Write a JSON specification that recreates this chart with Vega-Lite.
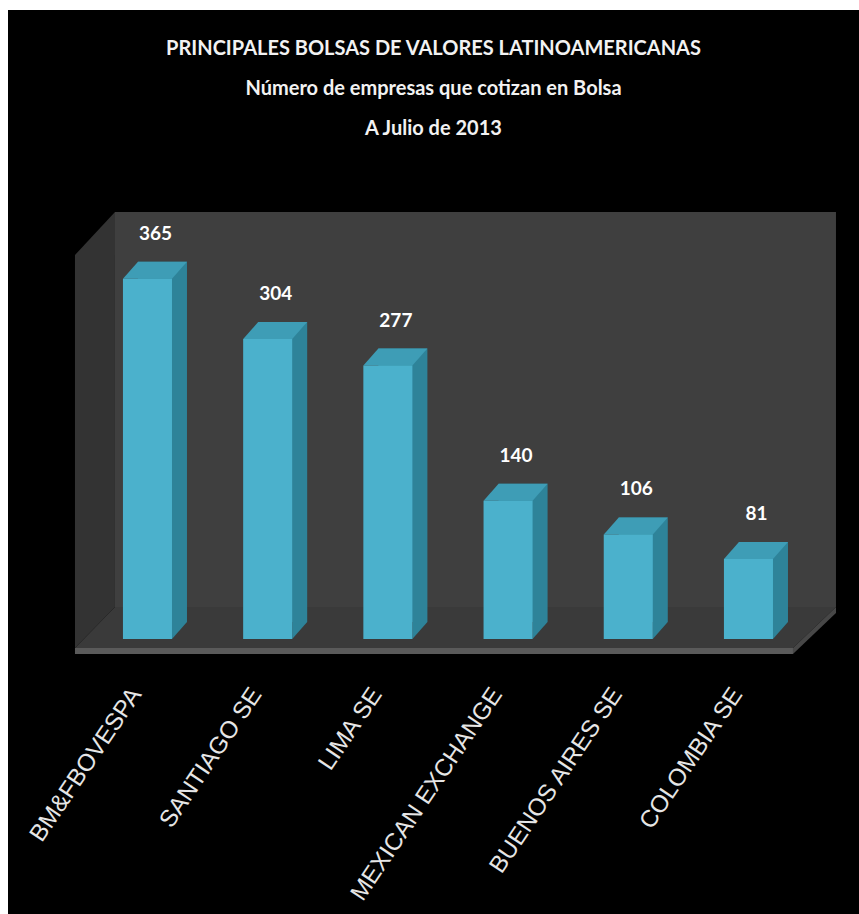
{
  "$schema": "https://vega.github.io/schema/vega-lite/v6.json",
  "width": 851,
  "height": 904,
  "autosize": {"type": "none"},
  "padding": {"left": 8, "top": 10, "right": 0, "bottom": 0},
  "background": "white",
  "config": {"view": {"fill": "black", "stroke": null}},
  "title": {
    "text": ["PRINCIPALES BOLSAS DE VALORES LATINOAMERICANAS", "Número de empresas que cotizan en Bolsa", "A Julio de 2013"],
    "font": "Lato, Roboto, sans-serif",
    "fontSize": 20,
    "fontWeight": "bold",
    "color": "#f2f2f2",
    "lineHeight": 40,
    "anchor": "middle",
    "frame": "group",
    "baseline": "top",
    "offset": -129
  },
  "data": {"values": [
    {"bolsa": "BM&FBOVESPA", "empresas": 365},
    {"bolsa": "SANTIAGO SE", "empresas": 304},
    {"bolsa": "LIMA SE", "empresas": 277},
    {"bolsa": "MEXICAN EXCHANGE", "empresas": 140},
    {"bolsa": "BUENOS AIRES SE", "empresas": 106},
    {"bolsa": "COLOMBIA SE", "empresas": 81}
  ]},
  "encoding": {
    "x": {
      "field": "bolsa", "type": "nominal", "sort": null,
      "scale": {
        "domain": ["BM&FBOVESPA", "SANTIAGO SE", "LIMA SE", "MEXICAN EXCHANGE", "BUENOS AIRES SE", "COLOMBIA SE"],
        "paddingInner": 0.592, "paddingOuter": 0.836, "align": 0.572
      },
      "axis": {
        "title": null, "domain": false, "ticks": false, "tickSize": 0, "grid": false,
        "labelAngle": -56, "labelAlign": "right", "labelBaseline": "middle",
        "labelFont": "Liberation Sans, Arial, sans-serif", "labelFontSize": 24,
        "labelColor": "#e6e6e6", "labelPadding": 0, "labelOffset": -11,
        "labelLimit": 400, "labelOverlap": false, "offset": -224
      }
    },
    "y": {
      "field": "empresas", "type": "quantitative",
      "scale": {"domain": [-278.6, 637.3], "nice": false, "zero": false},
      "axis": null
    }
  },
  "layer": [
    {
      "transform": [{"filter": "datum.bolsa === 'BM&FBOVESPA'"}],
      "mark": {"type": "point", "shape": "M-32.5,-32L-32.5,-427L688.5,-427L688.5,-32Z", "size": 4, "filled": true, "fill": "#3f3f3f", "opacity": 1, "strokeWidth": 0},
      "encoding": {"y": {"datum": 0, "type": "quantitative"}}
    },
    {
      "transform": [{"filter": "datum.bolsa === 'BM&FBOVESPA'"}],
      "mark": {"type": "point", "shape": "M-72.5,-384L-32.5,-427L-32.5,-32L-72.5,9Z", "size": 4, "filled": true, "fill": "#333333", "opacity": 1, "strokeWidth": 0},
      "encoding": {"y": {"datum": 0, "type": "quantitative"}}
    },
    {
      "transform": [{"filter": "datum.bolsa === 'BM&FBOVESPA'"}],
      "mark": {"type": "point", "shape": "M-72.5,9L-32.5,-32L688.5,-32L645.5,9Z", "size": 4, "filled": true, "fill": "#3a3a3a", "opacity": 1, "strokeWidth": 0},
      "encoding": {"y": {"datum": 0, "type": "quantitative"}}
    },
    {
      "transform": [{"filter": "datum.bolsa === 'BM&FBOVESPA'"}],
      "mark": {"type": "point", "shape": "M-72.5,9L645.5,9L645.5,15L-72.5,15Z", "size": 4, "filled": true, "fill": "#5a5a5a", "opacity": 1, "strokeWidth": 0},
      "encoding": {"y": {"datum": 0, "type": "quantitative"}}
    },
    {
      "transform": [{"filter": "datum.bolsa === 'BM&FBOVESPA'"}],
      "mark": {"type": "point", "shape": "M645.5,9L688.5,-32L688.5,-26L645.5,15Z", "size": 4, "filled": true, "fill": "#474747", "opacity": 1, "strokeWidth": 0},
      "encoding": {"y": {"datum": 0, "type": "quantitative"}}
    },
    {
      "mark": {"type": "bar", "color": "#2e8399", "xOffset": 15, "yOffset": -17, "y2Offset": -17},
      "encoding": {"y2": {"datum": 0}}
    },
    {
      "mark": {"type": "point", "shape": "M24.5,0L24.5,-17L39.5,-17Z", "size": 4, "filled": true, "fill": "#2e8399", "opacity": 1, "strokeWidth": 0},
      "encoding": {"y": {"datum": 0, "type": "quantitative"}}
    },
    {
      "mark": {"type": "point", "shape": "M-24.5,0L-9.5,-17L39.5,-17L24.5,0Z", "size": 4, "filled": true, "fill": "#3e9db6", "opacity": 1, "strokeWidth": 0}
    },
    {
      "mark": {"type": "bar", "color": "#4bb1cc"},
      "encoding": {"y2": {"datum": 0}}
    },
    {
      "mark": {"type": "text", "dx": 8, "dy": -45, "baseline": "middle", "align": "center", "font": "Lato, Roboto, sans-serif", "fontSize": 19, "fontWeight": "bold", "color": "#ffffff"},
      "encoding": {"text": {"field": "empresas", "type": "quantitative"}}
    }
  ]
}
